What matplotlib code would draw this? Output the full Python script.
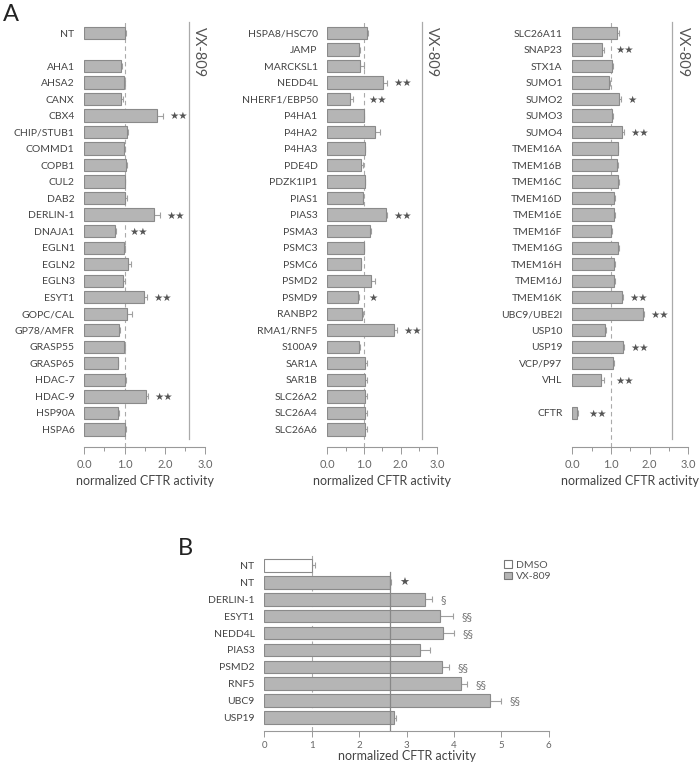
import matplotlib.pyplot as plt
from matplotlib.patches import Patch
import numpy as np

plt.rcParams['font.family'] = ['Lato', 'DejaVu Sans']

# Панель A: три колонки генов (пустая строка = разрыв)
genes_a1 = ["NT", "", "AHA1", "AHSA2", "CANX", "CBX4", "CHIP/STUB1", "COMMD1", "COPB1",
            "CUL2", "DAB2", "DERLIN-1", "DNAJA1", "EGLN1", "EGLN2", "EGLN3", "ESYT1",
            "GOPC/CAL", "GP78/AMFR", "GRASP55", "GRASP65", "HDAC-7", "HDAC-9", "HSP90A", "HSPA6"]
vals_a1 = [1.00, np.nan, 0.91, 0.985, 0.91, 1.80, 1.06, 0.99, 1.03,
           1.00, 1.01, 1.73, 0.76, 0.99, 1.08, 0.97, 1.48,
           1.07, 0.86, 0.985, 0.83, 1.01, 1.53, 0.85, 1.00]
errs_a1 = [0.03, np.nan, 0.02, 0.02, 0.04, 0.15, 0.02, 0.03, 0.02,
           0.02, 0.04, 0.15, 0.03, 0.02, 0.07, 0.03, 0.07,
           0.11, 0.03, 0.02, 0.02, 0.02, 0.05, 0.02, 0.04]
sig_a1 = ["", "", "", "", "", "**", "", "", "", "", "", "**", "**", "", "", "", "**",
          "", "", "", "", "", "**", "", ""]

genes_a2 = ["HSPA8/HSC70", "JAMP", "MARCKSL1", "NEDD4L", "NHERF1/EBP50", "P4HA1", "P4HA2",
            "P4HA3", "PDE4D", "PDZK1IP1", "PIAS1", "PIAS3", "PSMA3", "PSMC3", "PSMC6", "PSMD2",
            "PSMD9", "RANBP2", "RMA1/RNF5", "S100A9", "SAR1A", "SAR1B", "SLC26A2", "SLC26A4",
            "SLC26A6"]
vals_a2 = [1.07, 0.86, 0.89, 1.52, 0.61, 0.99, 1.29,
           1.02, 0.92, 1.02, 0.96, 1.60, 1.16, 0.99, 0.91, 1.19,
           0.83, 0.95, 1.82, 0.87, 1.03, 1.04, 1.03, 1.03,
           1.02]
errs_a2 = [0.05, 0.02, 0.10, 0.12, 0.09, 0.02, 0.15,
           0.02, 0.04, 0.02, 0.02, 0.02, 0.02, 0.02, 0.02, 0.11,
           0.03, 0.02, 0.08, 0.02, 0.04, 0.03, 0.06, 0.06,
           0.05]
sig_a2 = ["", "", "", "**", "**", "", "", "", "", "", "", "**", "", "", "", "",
          "*", "", "**", "", "", "", "", "", ""]

genes_a3 = ["SLC26A11", "SNAP23", "STX1A", "SUMO1", "SUMO2", "SUMO3", "SUMO4", "TMEM16A",
            "TMEM16B", "TMEM16C", "TMEM16D", "TMEM16E", "TMEM16F", "TMEM16G", "TMEM16H",
            "TMEM16J", "TMEM16K", "UBC9/UBE2I", "USP10", "USP19", "VCP/P97", "VHL", "", "CFTR"]
vals_a3 = [1.16, 0.76, 1.02, 0.96, 1.22, 1.03, 1.28, 1.17,
           1.15, 1.19, 1.09, 1.08, 1.01, 1.19, 1.08,
           1.08, 1.28, 1.84, 0.84, 1.30, 1.06, 0.74, np.nan, 0.12]
errs_a3 = [0.06, 0.06, 0.02, 0.02, 0.04, 0.02, 0.05, 0.02,
           0.02, 0.02, 0.02, 0.02, 0.02, 0.02, 0.02,
           0.02, 0.03, 0.02, 0.02, 0.03, 0.03, 0.08, np.nan, 0.03]
sig_a3 = ["", "**", "", "", "*", "", "**", "", "", "", "", "", "", "", "", "",
          "**", "**", "", "**", "", "**", "", "**"]

# Панель B
genes_b = ["NT", "NT", "DERLIN-1", "ESYT1", "NEDD4L", "PIAS3", "PSMD2", "RNF5", "UBC9", "USP19"]
vals_b = [1.00, 2.65, 3.38, 3.71, 3.76, 3.28, 3.75, 4.15, 4.77, 2.73]
errs_b = [0.08, 0.02, 0.15, 0.28, 0.24, 0.22, 0.15, 0.13, 0.22, 0.04]
sig_b = ["", "*", "§", "§§", "§§", "", "§§", "§§", "§§", ""]
dmso_b = [True, False, False, False, False, False, False, False, False, False]

VX_LEVEL_A = 2.59
VX_LEVEL_B = 2.65

BAR = "#b5b5b5"
EDGE = "#8a8a8a"
ERR = "#a0a0a0"
TXT = "#444444"
AX = "#999999"

W, H = 700, 768
fig = plt.figure(figsize=(7, 7.68), dpi=100)


def px_axes(x0, x1, ytop, ybot):
    return fig.add_axes([x0 / W, 1 - ybot / H, (x1 - x0) / W, (ybot - ytop) / H])


def style_axes(ax, ticksize=8, ticklen=5):
    for s in ["left", "right", "top"]:
        ax.spines[s].set_visible(False)
    ax.spines["bottom"].set_color(AX)
    ax.spines["bottom"].set_linewidth(0.8)
    ax.tick_params(axis="y", length=0, pad=7, labelsize=7.5, labelcolor=TXT)
    ax.tick_params(axis="x", which="major", length=ticklen, width=0.7, color=AX,
                   labelsize=ticksize, labelcolor="#666666", pad=4)
    ax.tick_params(axis="x", which="minor", length=3, width=0.7, color=AX)


def draw_bars(ax, genes, vals, errs, sig, fills=None):
    vals = np.array(vals, dtype=float)
    errs = np.array(errs, dtype=float)
    y = np.arange(len(genes))
    ok = ~np.isnan(vals)
    colors = [("white" if (fills and fills[i]) else BAR) for i in range(len(genes))]
    ax.errorbar(vals[ok], y[ok], xerr=[np.zeros(ok.sum()), errs[ok]], fmt="none",
                ecolor=ERR, elinewidth=0.8, capsize=2.5, capthick=0.8, zorder=2)
    ax.barh(y[ok], vals[ok], height=0.75, color=np.array(colors)[ok],
            edgecolor=EDGE, linewidth=0.8, zorder=3)
    ax.set_yticks(y, genes)
    return y


panels_a = [
    (genes_a1, vals_a1, errs_a1, sig_a1, 84.3, 205.0),
    (genes_a2, vals_a2, errs_a2, sig_a2, 327.3, 437.3),
    (genes_a3, vals_a3, errs_a3, sig_a3, 572.3, 688.3),
]

for genes, vals, errs, sig, x0, x1 in panels_a:
    ax = px_axes(x0, x1, 22, 447)
    y = draw_bars(ax, genes, vals, errs, sig)
    ax.set_xlim(0, 3)
    ax.set_ylim(25.07, -0.67)
    ax.axvline(1.0, color="#aaaaaa", linestyle=(0, (4, 3)), linewidth=0.8, zorder=1)
    ax.plot([VX_LEVEL_A, VX_LEVEL_A], [-0.67, 24.6], color="#aaaaaa", linewidth=0.9,
            clip_on=False)
    ax.text(2.86, -0.35, "VX-809", rotation=-90, ha="center", va="top",
            fontsize=10.5, color="#555555")
    for i, s in enumerate(sig):
        if not s:
            continue
        end = vals[i] + errs[i]
        if end >= 1.0:
            xs = end + 0.17
        elif end > 0.5:
            xs = 1.12
        else:
            xs = end + 0.26
        ax.text(xs, y[i] + 0.05, "★" * len(s), ha="left", va="center", fontsize=7.5,
                color="#555555", family=["DejaVu Sans"])
    ax.set_xticks([0, 1, 2, 3], ["0.0", "1.0", "2.0", "3.0"])
    ax.set_xticks([0.5, 1.5, 2.5], minor=True)
    style_axes(ax)
    ax.set_xlabel("normalized CFTR activity", fontsize=9, color=TXT, labelpad=3)

fig.text(3 / W, 1 - 21 / H, "A", fontsize=17, color="#222222")

# Панель B
axb = px_axes(264.3, 548.7, 555, 731)
y = draw_bars(axb, genes_b, vals_b, errs_b, sig_b, fills=dmso_b)
axb.set_xlim(0, 6)
axb.set_ylim(9.79, -0.61)
axb.axvline(1.0, color="#aaaaaa", linestyle=(0, (4, 3)), linewidth=0.8, zorder=1)
axb.plot([VX_LEVEL_B, VX_LEVEL_B], [0.42, 9.79], color="#888888", linewidth=0.9, zorder=4)
for i, s in enumerate(sig_b):
    if not s:
        continue
    xs = vals_b[i] + errs_b[i] + 0.18
    txt = "★" if s == "*" else s
    axb.text(xs, y[i] + 0.05, txt, ha="left", va="center", fontsize=8,
             color="#555555" if s == "*" else "#777777", family=["DejaVu Sans"])
axb.set_xticks(range(0, 7))
style_axes(axb, ticksize=7, ticklen=4)
axb.tick_params(axis="x", pad=3)
axb.set_xlabel("normalized CFTR activity", fontsize=9, color=TXT, labelpad=0.5)

fig.text(178 / W, 1 - 555 / H, "B", fontsize=17, color="#222222")

handles = [Patch(facecolor="white", edgecolor="#777777", linewidth=0.8, label="DMSO"),
           Patch(facecolor=BAR, edgecolor="#777777", linewidth=0.8, label="VX-809")]
fig.legend(handles=handles, loc="upper left", bbox_to_anchor=(499 / W, 1 - 555 / H),
           frameon=False, fontsize=7.5, handlelength=0.7, handleheight=0.7,
           handletextpad=0.4, labelspacing=0.2, labelcolor="#555555", borderpad=0)

fig.savefig("out.png", dpi=100)
